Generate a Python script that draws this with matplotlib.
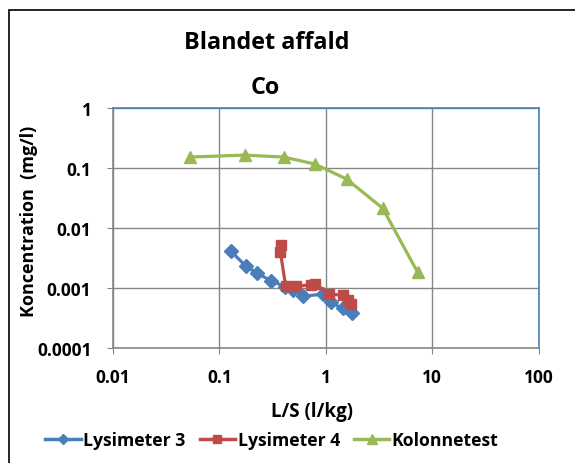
import matplotlib.pyplot as plt
from matplotlib.patches import Rectangle

# Data
lys3_ls = [0.128, 0.177, 0.227, 0.307, 0.41, 0.49, 0.61, 0.95, 1.11, 1.44, 1.75]
lys3_conc = [0.0041, 0.0023, 0.00173, 0.00131, 0.00104, 0.00092, 0.00072, 0.00078, 0.00057, 0.00045, 0.00038]

lys4_ls = [0.378, 0.375, 0.42, 0.53, 0.72, 0.80, 1.07, 1.44, 1.61, 1.72]
lys4_conc = [0.0052, 0.0039, 0.00106, 0.00106, 0.00112, 0.00117, 0.00078, 0.00075, 0.00062, 0.00053]

kol_ls = [0.0527, 0.173, 0.403, 0.788, 1.57, 3.43, 7.32]
kol_conc = [0.153, 0.165, 0.153, 0.117, 0.0656, 0.0213, 0.0018]

xticks = [0.01, 0.1, 1, 10, 100]
xtick_labels = ['0.01', '0.1', '1', '10', '100']
yticks = [0.0001, 0.001, 0.01, 0.1, 1]
ytick_labels = ['0.0001', '0.001', '0.01', '0.1', '1']

plt.rcParams['font.family'] = ['Open Sans', 'DejaVu Sans']

W, H = 575, 464
fig = plt.figure(figsize=(W / 100, H / 100), dpi=100)

# chart area border (cropped on the right and bottom)
fig.patches.append(Rectangle((9 / W, -0.1), 1.2, 1 - 11 / H + 0.1, transform=fig.transFigure,
                             fill=False, edgecolor='black', linewidth=1.2))

ax = fig.add_axes([113 / W, 1 - 348.5 / H, (538.5 - 113) / W, (348.5 - 109.3) / H])

ax.plot(lys3_ls, lys3_conc, color='#4a7ebb', marker='D', markersize=7, linewidth=2.3, label='Lysimeter 3')
ax.plot(lys4_ls, lys4_conc, color='#be4b48', marker='s', markersize=7.5, linewidth=2.3, label='Lysimeter 4')
ax.plot(kol_ls, kol_conc, color='#98b954', marker='^', markersize=8.5, linewidth=2.3, label='Kolonnetest')

ax.set_xscale('log')
ax.set_yscale('log')
ax.set_xlim(0.01, 100)
ax.set_ylim(0.0001, 1)
ax.set_xticks(xticks)
ax.set_xticklabels(xtick_labels)
ax.set_yticks(yticks)
ax.set_yticklabels(ytick_labels)
ax.minorticks_off()
ax.tick_params(axis='both', length=4, color='#868686', labelsize=12.5)
ax.tick_params(axis='x', pad=11)
ax.tick_params(axis='y', pad=11.5)
for lbl in ax.get_xticklabels() + ax.get_yticklabels():
    lbl.set_fontweight('bold')

ax.grid(True, color='#868686', linewidth=1)
ax.set_axisbelow(True)
ax.spines['left'].set_color('#868686')
ax.spines['bottom'].set_color('#868686')
ax.spines['top'].set_color('#4a7ebb')
ax.spines['right'].set_color('#4a7ebb')
for s in ax.spines.values():
    s.set_linewidth(1.2)

fig.text(267 / W, 1 - 43 / H, 'Blandet affald', ha='center', va='center', fontsize=16.8, fontweight='bold')
fig.text(265 / W, 1 - 88 / H, 'Co', ha='center', va='center', fontsize=16.8, fontweight='bold')
fig.text(29 / W, 1 - 221 / H, 'Koncentration  (mg/l)', ha='center', va='center', rotation=90,
         fontsize=13, fontweight='bold')
fig.text(312 / W, 1 - 412 / H, 'L/S (l/kg)', ha='center', va='center', fontsize=13.5, fontweight='bold')

leg = fig.legend(loc='center', bbox_to_anchor=(272 / W, 1 - 441 / H), ncol=3, frameon=False,
                 prop={'weight': 'bold', 'size': 12.7}, handlelength=2.0, handletextpad=0.15,
                 columnspacing=0.8, borderpad=0, markerscale=0.8)
for h in leg.legend_handles:
    h.set_linewidth(2.5)

fig.savefig('out.png', dpi=100)
